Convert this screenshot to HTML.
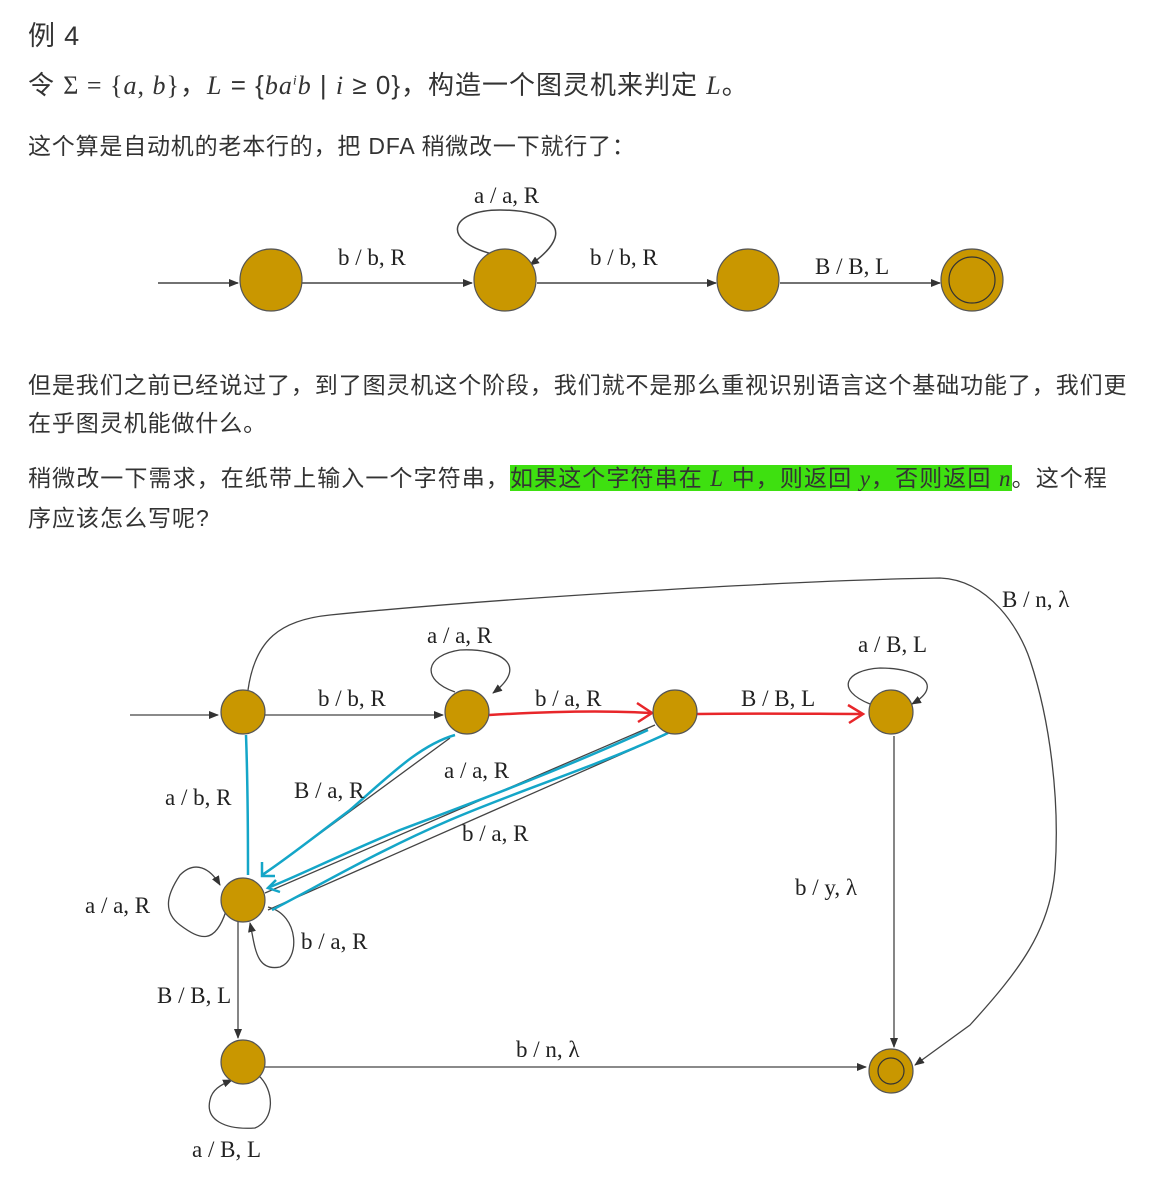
<!DOCTYPE html>
<html><head><meta charset="utf-8"><style>
body{margin:0;background:#fff;width:1173px;height:1195px;overflow:hidden;position:relative;font-family:"Liberation Sans","Noto Sans CJK SC",sans-serif;color:#333}
.t{position:absolute;left:28px;white-space:nowrap;font-size:23px;letter-spacing:0.8px}
.m{font-family:"Liberation Serif","DejaVu Serif",serif;font-style:italic}
.hl{background:#3ee010}
svg{position:absolute;left:0;top:0}
svg text{font-family:"Liberation Serif",serif;font-size:23px;fill:#222}
</style></head><body>
<div class="t" style="top:14px;font-size:27px">例 4</div>
<div class="t" style="top:65px;font-size:26px;letter-spacing:1px">令 <span class="m" style="font-style:normal">Σ = {<i>a</i>, <i>b</i>}</span>，<span class="m">L</span> = {<span class="m">ba<sup style="font-size:14px">i</sup>b</span> | <span class="m">i</span> ≥ 0}，构造一个图灵机来判定 <span class="m">L</span>。</div>
<div class="t" style="top:127px">这个算是自动机的老本行的，把 DFA 稍微改一下就行了：</div>
<div class="t" style="top:366px;letter-spacing:0.9px">但是我们之前已经说过了，到了图灵机这个阶段，我们就不是那么重视识别语言这个基础功能了，我们更</div>
<div class="t" style="top:404px;letter-spacing:0.9px">在乎图灵机能做什么。</div>
<div class="t" style="top:459px;letter-spacing:1.1px">稍微改一下需求，在纸带上输入一个字符串，<span class="hl">如果这个字符串在 <span class="m">L</span> 中，则返回 <span class="m">y</span>，否则返回 <span class="m">n</span></span>。这个程</div>
<div class="t" style="top:499px;letter-spacing:1px">序应该怎么写呢?</div>
<svg width="1173" height="1195" viewBox="0 0 1173 1195">
<defs><marker id="ar" markerWidth="10" markerHeight="8" refX="9" refY="4" orient="auto" markerUnits="userSpaceOnUse"><path d="M0,0 L10,4 L0,8z" fill="#333"/></marker></defs>
<g stroke="#444" stroke-width="1.5" fill="none">
<line x1="158" y1="283" x2="238" y2="283" marker-end="url(#ar)"/>
<line x1="302" y1="283" x2="472" y2="283" marker-end="url(#ar)"/>
<line x1="537" y1="283" x2="716" y2="283" marker-end="url(#ar)"/>
<line x1="780" y1="283" x2="940" y2="283" marker-end="url(#ar)"/>
<path d="M492,254 C440,240 450,210 500,210 C550,210 580,230 530,265" marker-end="url(#ar)"/>
</g>
<g fill="#c99700" stroke="#555" stroke-width="1.2">
<circle cx="271" cy="280" r="31"/><circle cx="505" cy="280" r="31"/><circle cx="748" cy="280" r="31"/><circle cx="972" cy="280" r="31"/>
<circle cx="972" cy="280" r="23" fill="none" stroke="#333"/>
</g>
<text x="338" y="265">b / b, R</text><text x="474" y="203">a / a, R</text><text x="590" y="265">b / b, R</text><text x="815" y="274">B / B, L</text>

<g stroke="#444" stroke-width="1.3" fill="none">
<line x1="130" y1="715" x2="218" y2="715" marker-end="url(#ar)"/>
<line x1="264" y1="715" x2="443" y2="715" marker-end="url(#ar)"/>
<line x1="894" y1="736" x2="894" y2="1047" marker-end="url(#ar)"/>
<line x1="265" y1="1067" x2="866" y2="1067" marker-end="url(#ar)"/>
<line x1="238" y1="922" x2="238" y2="1038" marker-end="url(#ar)"/>
<path d="M248,690 C255,640 280,620 330,615 C500,598 800,580 940,578 C990,580 1020,630 1030,660 C1050,720 1060,800 1055,870 C1050,930 1020,970 970,1025 L915,1065" marker-end="url(#ar)"/>
<path d="M455,692 C420,680 425,655 460,650 C500,648 530,665 493,693" marker-end="url(#ar)"/>
<path d="M870,704 C835,690 845,670 880,668 C920,668 945,685 912,704" marker-end="url(#ar)"/>
<path d="M226,911 C215,945 200,940 180,925 C160,910 170,890 180,875 C195,860 210,868 220,885" marker-end="url(#ar)"/>
<path d="M268,907 C300,915 300,960 280,967 C255,972 255,945 250,923" marker-end="url(#ar)"/>
<path d="M258,1075 C275,1090 275,1120 255,1128 C225,1130 205,1120 210,1100 C212,1090 220,1085 232,1080" marker-end="url(#ar)"/>
<line x1="450" y1="738" x2="262" y2="876"/>
<line x1="655" y1="725" x2="265" y2="893"/>
<line x1="665" y1="735" x2="268" y2="910"/>
</g>
<g stroke="#e8262a" stroke-width="2.5" fill="none">
<path d="M489,715 C540,712 600,710 650,713"/><path d="M637,703 L652,713 L638,722"/>
<path d="M697,714 C760,713 820,714 863,714"/><path d="M848,705 L863,714 L849,723"/>
</g>
<g stroke="#14a6c8" stroke-width="2.5" fill="none">
<path d="M246,735 C248,790 248,840 248,875"/>
<path d="M455,735 C420,745 390,775 350,810 C310,840 285,860 262,875"/><path d="M262,862 L262,876 L275,876"/>
<path d="M648,730 C560,770 480,800 400,830 C340,855 300,875 270,887"/><path d="M276,880 L268,888 L280,892"/>
<path d="M668,733 C600,765 520,790 450,820 C380,850 320,885 272,910"/>
</g>
<g fill="#c99700" stroke="#555" stroke-width="1.2">
<circle cx="243" cy="712" r="22"/><circle cx="467" cy="712" r="22"/><circle cx="675" cy="712" r="22"/><circle cx="891" cy="712" r="22"/>
<circle cx="243" cy="900" r="22"/><circle cx="243" cy="1062" r="22"/><circle cx="891" cy="1071" r="22"/>
<circle cx="891" cy="1071" r="13" fill="none" stroke="#333"/>
</g>
<text x="318" y="706">b / b, R</text><text x="427" y="643">a / a, R</text><text x="535" y="706">b / a, R</text>
<text x="741" y="706">B / B, L</text><text x="858" y="652">a / B, L</text><text x="1002" y="607">B / n, λ</text>
<text x="165" y="805">a / b, R</text><text x="294" y="798">B / a, R</text><text x="444" y="778">a / a, R</text>
<text x="462" y="841">b / a, R</text><text x="85" y="913">a / a, R</text><text x="301" y="949">b / a, R</text>
<text x="157" y="1003">B / B, L</text><text x="795" y="895">b / y, λ</text><text x="516" y="1057">b / n, λ</text>
<text x="192" y="1157">a / B, L</text>
</svg>
</body></html>
